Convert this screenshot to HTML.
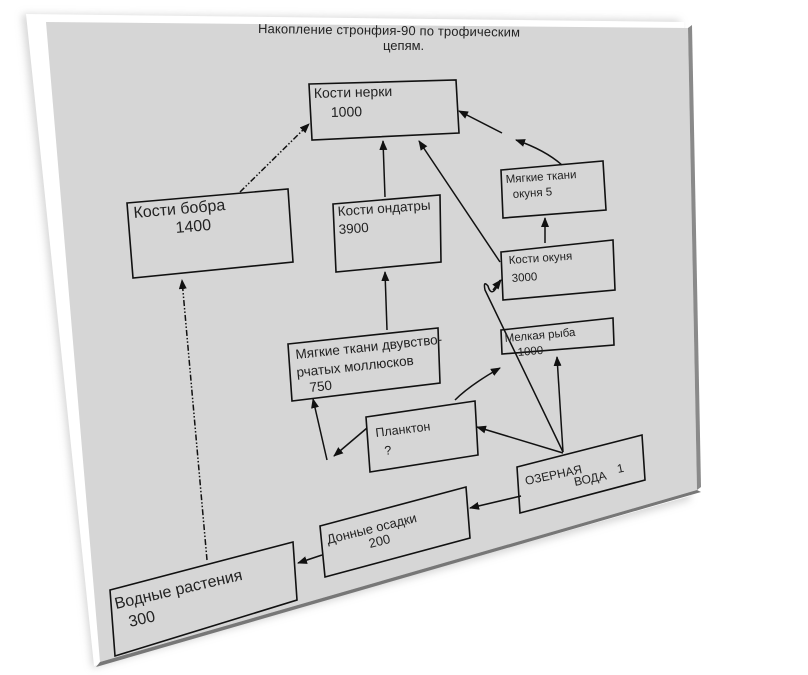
<!DOCTYPE html>
<html><head><meta charset="utf-8"><style>
html,body{margin:0;padding:0;background:#fff;width:808px;height:675px;overflow:hidden}
svg{display:block}
text{font-family:"Liberation Sans",sans-serif;fill:#222}
</style></head><body>
<svg width="808" height="675" viewBox="0 0 808 675" xmlns="http://www.w3.org/2000/svg">
<defs>
<filter id="sh" x="-10%" y="-10%" width="120%" height="120%"><feGaussianBlur stdDeviation="4"/></filter>
<marker id="ar" markerWidth="10" markerHeight="8" refX="9" refY="4" orient="auto" markerUnits="userSpaceOnUse"><path d="M0,0 L10,4 L0,8 Z" fill="#111"/></marker>
</defs>
<polygon points="22,14 680,20 690,500 92,668" fill="#bbb" filter="url(#sh)" opacity="0.6"/>
<polygon points="26,14 684,22 690,496 94,666" fill="#fff"/>
<polygon points="46,22 688,28 697,490 100,662" fill="#d6d6d6"/>
<polygon points="688,28 692,25 701,487 697,490" fill="#8a8a8a"/>
<polygon points="100,662 697,490 701,492 96,667" fill="#777"/>

<g stroke="#111" stroke-width="1.6" fill="none">
<polygon points="309,84 456,80 459,133 312,140"/>
<polygon points="127,203 288,189 293,262 133,278"/>
<polygon points="333,204 440,195 441,262 336,272"/>
<polygon points="501,170 603,161 606,210 503,218"/>
<polygon points="501,252 613,240 615,290 503,300"/>
<polygon points="501,330 613,318 614,345 502,354"/>
<polygon points="288,344 438,328 440,383 292,401"/>
<polygon points="366,417 475,401 478,455 370,472"/>
<polygon points="517,467 642,435 645,480 520,513"/>
<polygon points="320,526 466,487 470,538 325,577"/>
<polygon points="110,590 293,542 297,600 115,656"/>
</g>

<g stroke="#111" stroke-width="1.5" fill="none">
<path d="M240,192 L309,124" stroke-dasharray="6,2,1.5,2,1.5,2" marker-end="url(#ar)"/>
<path d="M207,560 L182,280" stroke-dasharray="6,2,1.5,2,1.5,2" marker-end="url(#ar)"/>
<path d="M385,197 L383,141" marker-end="url(#ar)"/>
<path d="M387,330 L385,272" marker-end="url(#ar)"/>
<path d="M500,262 L419,141" marker-end="url(#ar)"/>
<path d="M563,452 L485,290 Q483,280 488,286 Q492,300 500,280" />
<path d="M493,290 L501,280" marker-end="url(#ar)"/>
<path d="M562,165 Q545,150 516,140" marker-end="url(#ar)"/>
<path d="M502,133 L459,111" marker-end="url(#ar)"/>
<path d="M545,243 L545,218" marker-end="url(#ar)"/>
<path d="M367,428 L334,456" marker-end="url(#ar)"/>
<path d="M327,460 L313,399" marker-end="url(#ar)"/>
<path d="M455,400 Q470,385 500,368" marker-end="url(#ar)"/>
<path d="M563,453 L477,427" marker-end="url(#ar)"/>
<path d="M563,452 L557,357" marker-end="url(#ar)"/>
<path d="M521,496 L470,508" marker-end="url(#ar)"/>
<path d="M322,555 L298,563" marker-end="url(#ar)"/>
</g>

<text x="258" y="33" font-size="13" transform="rotate(0.8 258 33)" textLength="262">Накопление стронфия-90 по трофическим</text>
<text x="383" y="50" font-size="13">цепям.</text>

<text x="314" y="98" font-size="14" transform="rotate(-1.5 314 98)">Кости нерки</text>
<text x="331" y="117" font-size="14" transform="rotate(-1.5 331 117)">1000</text>

<text x="134" y="218" font-size="16" transform="rotate(-5 134 218)">Кости бобра</text>
<text x="176" y="233" font-size="16" transform="rotate(-5 176 233)">1400</text>

<text x="338" y="216" font-size="13.5" transform="rotate(-4 338 216)">Кости ондатры</text>
<text x="339" y="234" font-size="13.5" transform="rotate(-4 339 234)">3900</text>

<text x="506" y="183" font-size="11.5" transform="rotate(-4 506 183)">Мягкие ткани</text>
<text x="513" y="198" font-size="11.5" transform="rotate(-4 513 198)">окуня  5</text>

<text x="509" y="264" font-size="11.5" transform="rotate(-4 509 264)">Кости окуня</text>
<text x="512" y="282" font-size="11.5" transform="rotate(-4 512 282)">3000</text>

<text x="505" y="342" font-size="11.5" transform="rotate(-5 505 342)">Мелкая рыба</text>
<text x="518" y="356" font-size="11.5" transform="rotate(-5 518 356)">1000</text>

<text x="296" y="359" font-size="13.5" transform="rotate(-6 296 359)">Мягкие ткани двувство-</text>
<text x="297" y="377" font-size="13.5" transform="rotate(-6 297 377)">рчатых моллюсков</text>
<text x="310" y="392" font-size="13.5" transform="rotate(-6 310 392)">750</text>

<text x="376" y="437" font-size="12.5" transform="rotate(-7 376 437)">Планктон</text>
<text x="385" y="455" font-size="12.5" transform="rotate(-7 385 455)">?</text>

<text x="526" y="485" font-size="12" transform="rotate(-12 526 485)">ОЗЕРНАЯ</text>
<text x="575" y="486" font-size="12" transform="rotate(-12 575 486)">ВОДА</text>
<text x="618" y="473" font-size="12" transform="rotate(-12 618 473)">1</text>

<text x="328" y="544" font-size="13" transform="rotate(-14 328 544)">Донные осадки</text>
<text x="370" y="548" font-size="13" transform="rotate(-14 370 548)">200</text>

<text x="116" y="609" font-size="16" transform="rotate(-13 116 609)">Водные растения</text>
<text x="130" y="627" font-size="16" transform="rotate(-13 130 627)">300</text>
</svg>
</body></html>
